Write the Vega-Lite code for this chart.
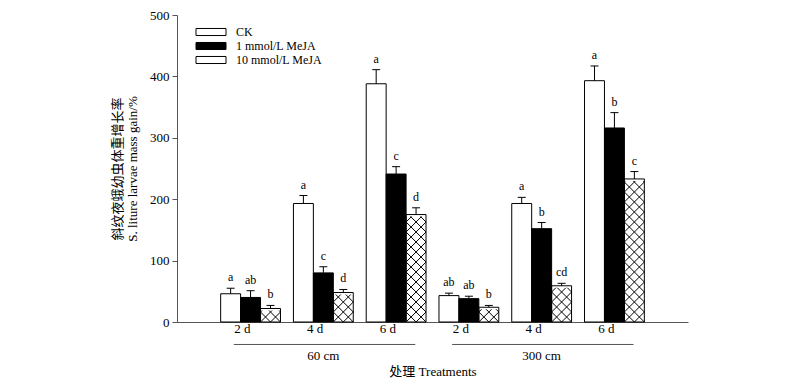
{
  "$schema": "https://vega.github.io/schema/vega-lite/v6.json",
  "width": 511,
  "height": 307,
  "autosize": {"type": "none"},
  "padding": {"left": 177, "top": 15, "right": 112, "bottom": 68},
  "background": "white",
  "config": {
    "view": {"stroke": null},
    "font": "Liberation Serif",
    "axis": {
      "labelFont": "Liberation Serif",
      "titleFont": "Liberation Serif, Noto Sans CJK SC",
      "labelColor": "black",
      "titleColor": "black",
      "titleFontWeight": "normal",
      "grid": false,
      "domainColor": "#555",
      "tickColor": "#555"
    }
  },
  "datasets": {
    "bars": [
      {"grp": "60 cm|2 d", "trt": "CK", "mean": 46, "se": 9, "lab": "a"},
      {"grp": "60 cm|2 d", "trt": "1 mmol/L MeJA", "mean": 40, "se": 11, "lab": "ab"},
      {"grp": "60 cm|2 d", "trt": "10 mmol/L MeJA", "mean": 22, "se": 5, "lab": "b"},
      {"grp": "60 cm|4 d", "trt": "CK", "mean": 193, "se": 13, "lab": "a"},
      {"grp": "60 cm|4 d", "trt": "1 mmol/L MeJA", "mean": 80, "se": 10, "lab": "c"},
      {"grp": "60 cm|4 d", "trt": "10 mmol/L MeJA", "mean": 48, "se": 5, "lab": "d"},
      {"grp": "60 cm|6 d", "trt": "CK", "mean": 388, "se": 23, "lab": "a"},
      {"grp": "60 cm|6 d", "trt": "1 mmol/L MeJA", "mean": 241, "se": 12, "lab": "c"},
      {"grp": "60 cm|6 d", "trt": "10 mmol/L MeJA", "mean": 175, "se": 11, "lab": "d"},
      {"grp": "300 cm|2 d", "trt": "CK", "mean": 43, "se": 4, "lab": "ab"},
      {"grp": "300 cm|2 d", "trt": "1 mmol/L MeJA", "mean": 38, "se": 4, "lab": "ab"},
      {"grp": "300 cm|2 d", "trt": "10 mmol/L MeJA", "mean": 24, "se": 3, "lab": "b"},
      {"grp": "300 cm|4 d", "trt": "CK", "mean": 193, "se": 10, "lab": "a"},
      {"grp": "300 cm|4 d", "trt": "1 mmol/L MeJA", "mean": 152, "se": 10, "lab": "b"},
      {"grp": "300 cm|4 d", "trt": "10 mmol/L MeJA", "mean": 59, "se": 4, "lab": "cd"},
      {"grp": "300 cm|6 d", "trt": "CK", "mean": 393, "se": 24, "lab": "a"},
      {"grp": "300 cm|6 d", "trt": "1 mmol/L MeJA", "mean": 316, "se": 25, "lab": "b"},
      {"grp": "300 cm|6 d", "trt": "10 mmol/L MeJA", "mean": 233, "se": 12, "lab": "c"}
    ],
    "groups": [
      {"dist": "60 cm", "start": "60 cm|2 d", "mid": "60 cm|4 d", "end": "60 cm|6 d"},
      {"dist": "300 cm", "start": "300 cm|2 d", "mid": "300 cm|4 d", "end": "300 cm|6 d"}
    ]
  },
  "layer": [
    {
      "data": {"name": "bars"},
      "transform": [{"filter": "datum.trt === '10 mmol/L MeJA'"}],
      "mark": {
        "type": "point",
        "shape": "M-0.05,-0.8L0.05,-0.9M-0.05,-0.75L0.05,-0.85M-0.05,-0.7L0.05,-0.8M-0.05,-0.65L0.05,-0.75M-0.05,-0.6L0.05,-0.7M-0.05,-0.55L0.05,-0.65M-0.05,-0.5L0.05,-0.6M-0.05,-0.45L0.05,-0.55M-0.05,-0.4L0.05,-0.5M-0.05,-0.35L0.05,-0.45M-0.05,-0.3L0.05,-0.4M-0.05,-0.25L0.05,-0.35M-0.05,-0.2L0.05,-0.3M-0.05,-0.15L0.05,-0.25M-0.05,-0.1L0.05,-0.2M-0.05,-0.05L0.05,-0.15M-0.05,0L0.05,-0.1M-0.05,0.05L0.05,-0.05M-0.05,0.1L0.05,0M-0.05,-0.9L0.05,-0.8M-0.05,-0.85L0.05,-0.75M-0.05,-0.8L0.05,-0.7M-0.05,-0.75L0.05,-0.65M-0.05,-0.7L0.05,-0.6M-0.05,-0.65L0.05,-0.55M-0.05,-0.6L0.05,-0.5M-0.05,-0.55L0.05,-0.45M-0.05,-0.5L0.05,-0.4M-0.05,-0.45L0.05,-0.35M-0.05,-0.4L0.05,-0.3M-0.05,-0.35L0.05,-0.25M-0.05,-0.3L0.05,-0.2M-0.05,-0.25L0.05,-0.15M-0.05,-0.2L0.05,-0.1M-0.05,-0.15L0.05,-0.05M-0.05,-0.1L0.05,0M-0.05,-0.05L0.05,0.05M-0.05,0L0.05,0.1",
        "size": 160000,
        "filled": false,
        "stroke": "black",
        "strokeWidth": 1,
        "opacity": 1,
        "clip": true
      },
      "encoding": {
        "x": {"field": "grp", "type": "nominal", "title": "处理 Treatments"},
        "xOffset": {"field": "trt", "type": "nominal"},
        "y": {"datum": 0, "type": "quantitative", "title": ["斜纹夜蛾幼虫体重增长率", "S. liture larvae mass gain/%"]}
      }
    },
    {
      "data": {"name": "bars"},
      "transform": [{"filter": "datum.trt === '10 mmol/L MeJA'"}],
      "mark": {"type": "bar", "fill": "white", "stroke": "white", "strokeWidth": 4, "opacity": 1},
      "encoding": {
        "x": {"field": "grp", "type": "nominal", "title": "处理 Treatments"},
        "xOffset": {"field": "trt", "type": "nominal"},
        "y": {"field": "mean", "type": "quantitative", "stack": null, "title": ["斜纹夜蛾幼虫体重增长率", "S. liture larvae mass gain/%"]},
        "y2": {"datum": 500}
      }
    },
    {
      "data": {"name": "bars"},
      "mark": {"type": "bar", "stroke": "black", "strokeWidth": 1, "opacity": 1},
      "encoding": {
        "x": {
          "field": "grp",
          "type": "nominal",
          "title": "处理 Treatments",
          "scale": {
            "domain": ["60 cm|2 d", "60 cm|4 d", "60 cm|6 d", "300 cm|2 d", "300 cm|4 d", "300 cm|6 d"],
            "paddingInner": 0.178,
            "paddingOuter": 0.6
          },
          "axis": {
            "labelExpr": "split(datum.label, '|')[1]",
            "ticks": false,
            "labelAngle": 0,
            "labelPadding": 6,
            "labelFontSize": 13,
            "titleFontSize": 13,
            "titlePadding": 30
          }
        },
        "xOffset": {
          "field": "trt",
          "type": "nominal",
          "scale": {"domain": ["CK", "1 mmol/L MeJA", "10 mmol/L MeJA"], "paddingInner": 0, "paddingOuter": 0}
        },
        "y": {
          "field": "mean",
          "type": "quantitative",
          "stack": null,
          "title": ["斜纹夜蛾幼虫体重增长率", "S. liture larvae mass gain/%"],
          "scale": {"domain": [0, 500], "nice": false},
          "axis": {
            "values": [0, 100, 200, 300, 400, 500],
            "tickSize": 5,
            "labelFontSize": 13,
            "labelPadding": 3,
            "titleFontSize": 13,
            "titlePadding": 10,
            "titleLineHeight": 15
          }
        },
        "fill": {
          "field": "trt",
          "type": "nominal",
          "scale": {"domain": ["CK", "1 mmol/L MeJA", "10 mmol/L MeJA"], "range": ["white", "black", "transparent"]},
          "legend": {
            "title": null,
            "orient": "none",
            "legendX": 26,
            "legendY": 9,
            "padding": 0,
            "labelFont": "Liberation Serif",
            "labelFontSize": 12,
            "labelColor": "black",
            "labelOffset": 17,
            "rowPadding": 0,
            "symbolSize": 225,
            "symbolStrokeColor": "black",
            "symbolStrokeWidth": 1,
            "symbolType": "M-2,-0.47H2V0.47H-2Z",
            "encode": {
              "symbols": {
                "update": {
                  "shape": {"signal": "datum.value === '10 mmol/L MeJA' ? 'M-2,-0.47H2V0.47H-2ZM-2,-0.47L-0.667,0.47L0.667,-0.47L2,0.47M-2,0.47L-0.667,-0.47L0.667,0.47L2,-0.47' : 'M-2,-0.47H2V0.47H-2Z'"},
                  "stroke": {"value": "black"}
                }
              }
            }
          }
        }
      }
    },
    {
      "data": {"name": "bars"},
      "transform": [{"calculate": "datum.mean + datum.se", "as": "upper"}],
      "mark": {"type": "rule", "color": "black", "strokeWidth": 1},
      "encoding": {
        "x": {"field": "grp", "type": "nominal", "title": "处理 Treatments"},
        "xOffset": {"field": "trt", "type": "nominal"},
        "y": {"field": "mean", "type": "quantitative", "title": ["斜纹夜蛾幼虫体重增长率", "S. liture larvae mass gain/%"]},
        "y2": {"field": "upper"}
      }
    },
    {
      "data": {"name": "bars"},
      "transform": [{"calculate": "datum.mean + datum.se", "as": "upper"}],
      "mark": {"type": "tick", "color": "black", "size": 8, "thickness": 1, "opacity": 1},
      "encoding": {
        "x": {"field": "grp", "type": "nominal", "title": "处理 Treatments"},
        "xOffset": {"field": "trt", "type": "nominal"},
        "y": {"field": "upper", "type": "quantitative", "title": ["斜纹夜蛾幼虫体重增长率", "S. liture larvae mass gain/%"]}
      }
    },
    {
      "data": {"name": "bars"},
      "transform": [{"calculate": "datum.mean + datum.se", "as": "upper"}],
      "mark": {"type": "text", "baseline": "alphabetic", "dy": -7, "fontSize": 12, "font": "Liberation Serif", "color": "black"},
      "encoding": {
        "x": {"field": "grp", "type": "nominal", "title": "处理 Treatments"},
        "xOffset": {"field": "trt", "type": "nominal"},
        "y": {"field": "upper", "type": "quantitative", "title": ["斜纹夜蛾幼虫体重增长率", "S. liture larvae mass gain/%"]},
        "text": {"field": "lab"}
      }
    },
    {
      "data": {"name": "groups"},
      "mark": {"type": "rule", "color": "#555", "strokeWidth": 1},
      "encoding": {
        "x": {"field": "start", "type": "nominal", "bandPosition": 0.22, "title": "处理 Treatments"},
        "x2": {"field": "end", "bandPosition": 0.82},
        "y": {"datum": -36.6, "type": "quantitative", "title": ["斜纹夜蛾幼虫体重增长率", "S. liture larvae mass gain/%"]}
      }
    },
    {
      "data": {"name": "groups"},
      "mark": {"type": "text", "baseline": "alphabetic", "fontSize": 13, "font": "Liberation Serif", "color": "black"},
      "encoding": {
        "x": {"field": "mid", "type": "nominal", "title": "处理 Treatments"},
        "y": {"datum": -62, "type": "quantitative", "title": ["斜纹夜蛾幼虫体重增长率", "S. liture larvae mass gain/%"]},
        "text": {"field": "dist"}
      }
    }
  ]
}
